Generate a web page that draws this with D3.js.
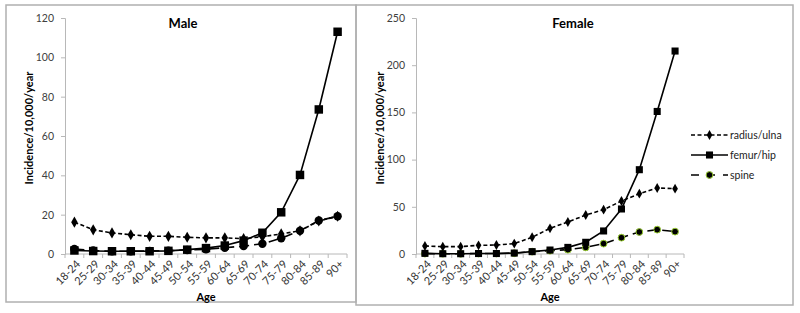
<!DOCTYPE html>
<html>
<head>
<meta charset="utf-8">
<script src="https://cdn.jsdelivr.net/npm/d3@7/dist/d3.min.js"></script>
<style>
  body { margin: 0; background: #fff; }
  svg { display: block; font-family: Lato, "Open Sans", sans-serif; }
</style>
</head>
<body>
<div id="chart"></div>
<script>
// age groups on the x axis
const ages = ["18-24","25-29","30-34","35-39","40-44","45-49","50-54","55-59","60-64","65-69","70-74","75-79","80-84","85-89","90+"];

// male incidence per 10,000 per year
const maleRadius = [16.2, 12.3, 10.7, 9.8, 9.0, 9.0, 8.5, 8.2, 8.2, 7.8, 8.8, 10.2, 11.8, 16.8, 19.2];
const maleFemur  = [1.8, 1.5, 1.4, 1.4, 1.4, 1.6, 2.2, 3.0, 4.3, 6.8, 10.8, 21.2, 40.2, 73.5, 113];
const maleSpine  = [2.5, 1.8, 1.4, 1.4, 1.6, 1.7, 2.0, 2.4, 3.2, 4.0, 5.2, 8.0, 11.8, 17.0, 19.2];

// female incidence per 10,000 per year
const femaleRadius = [8.5, 7.8, 7.8, 9.2, 9.5, 11, 17.7, 27.2, 33.9, 41.3, 47, 56.1, 63.9, 69.9, 69.2];
const femaleFemur  = [0.7, 0.3, 0.3, 0.5, 0.5, 1.0, 2.5, 4.2, 7.0, 12.4, 24.4, 47.7, 89.3, 151, 215];
const femaleSpine  = [0.4, 0.3, 0.2, 0.5, 0.5, 0.8, 2.5, 3.5, 4.6, 7.0, 11, 17.3, 23.3, 25.8, 23.7];

const maleTicks = [0, 20, 40, 60, 80, 100, 120];
const femaleTicks = [0, 50, 100, 150, 200, 250];
const legendNames = ["radius/ulna", "femur/hip", "spine"];

const svg = d3.select("#chart")
  .append("svg")
    .attr("width", 800)
    .attr("height", 313);

// panel frames
svg.append("rect")
  .attr("x", 6).attr("y", 5).attr("width", 350).attr("height", 297)
  .attr("fill", "none").attr("stroke", "#b0b0b0").attr("stroke-width", 1.5);
svg.append("rect")
  .attr("x", 356).attr("y", 5).attr("width", 437).attr("height", 300)
  .attr("fill", "none").attr("stroke", "#b0b0b0").attr("stroke-width", 1.5);

function drawPanel(opt) {
  const x = d3.scaleBand().domain(ages).range([opt.x0, opt.x1]);
  const y = d3.scaleLinear().domain([0, d3.max(opt.ticks)]).range([254, 18]);
  const g = svg.append("g");

  // y axis
  const ya = g.append("g")
    .attr("transform", `translate(${opt.x0},0)`)
    .call(d3.axisLeft(y).tickValues(opt.ticks).tickSize(4).tickPadding(7));
  ya.select(".domain").attr("stroke", "#b8b8b8");
  ya.selectAll(".tick line").attr("stroke", "#b8b8b8");
  ya.selectAll("text").attr("font-size", "10.5px").attr("fill", "#404040")
    .attr("font-family", "Lato, sans-serif");

  // x axis, ticks at band edges
  const xa = g.append("g").attr("transform", "translate(0,254)");
  xa.append("line")
    .attr("x1", opt.x0).attr("x2", opt.x1)
    .attr("stroke", "#b8b8b8");
  xa.selectAll(".xt")
    .data(ages.concat(["end"]))
    .join("line")
      .attr("x1", (d, i) => opt.x0 + i * x.bandwidth())
      .attr("x2", (d, i) => opt.x0 + i * x.bandwidth())
      .attr("y1", 0).attr("y2", 4)
      .attr("stroke", "#b8b8b8");
  xa.selectAll(".xl")
    .data(ages)
    .join("text")
      .attr("transform", d => `translate(${x(d) + x.bandwidth() / 2 + 4},8) rotate(-45)`)
      .attr("text-anchor", "end")
      .attr("dy", "0.35em")
      .attr("font-size", "11px")
      .attr("fill", "#333")
      .text(d => d);

  // titles
  g.append("text")
    .attr("x", opt.titleX).attr("y", 28)
    .attr("text-anchor", "middle")
    .attr("font-size", "13px").attr("font-weight", "bold")
    .text(opt.title);
  g.append("text")
    .attr("x", (opt.x0 + opt.x1) / 2).attr("y", 301)
    .attr("text-anchor", "middle")
    .attr("font-size", "11px").attr("font-weight", "bold")
    .text("Age");
  g.append("text")
    .attr("transform", `translate(${opt.yTitleX},128) rotate(-90)`)
    .attr("text-anchor", "middle")
    .attr("font-size", "11px").attr("font-weight", "bold")
    .text("Incidence/10,000/year");

  const line = d3.line()
    .x((d, i) => x(ages[i]) + x.bandwidth() / 2)
    .y(d => y(d));

  const series = [
    {values: opt.spine, dash: "10,5", marker: "circle"},
    {values: opt.radius, dash: "4,2.5", marker: "diamond"},
    {values: opt.femur, dash: null, marker: "square"}
  ];

  series.forEach(s => {
    g.append("path")
      .datum(s.values)
      .attr("d", line)
      .attr("fill", "none")
      .attr("stroke", "#000")
      .attr("stroke-width", 1.6)
      .attr("stroke-dasharray", s.dash);

    const sym = s.marker === "circle" ? d3.symbolCircle
      : s.marker === "square" ? d3.symbolSquare : d3.symbolDiamond;
    const size = s.marker === "circle" ? opt.circleSize
      : s.marker === "square" ? opt.squareSize : opt.diamondSize;
    g.selectAll(null)
      .data(s.values)
      .join("path")
        .attr("transform", (d, i) => `translate(${x(ages[i]) + x.bandwidth() / 2},${y(d)})`)
        .attr("d", d3.symbol().type(sym).size(size))
        .attr("fill", "#000")
        .attr("stroke", s.marker === "circle" ? opt.spineEdge : "none")
        .attr("stroke-width", 1);
  });
}

drawPanel({
  title: "Male", titleX: 183, yTitleX: 33,
  x0: 65, x1: 347, ticks: maleTicks,
  radius: maleRadius, femur: maleFemur, spine: maleSpine,
  circleSize: 56, squareSize: 72, diamondSize: 36, spineEdge: "none"
});

drawPanel({
  title: "Female", titleX: 573, yTitleX: 384,
  x0: 416, x1: 684, ticks: femaleTicks,
  radius: femaleRadius, femur: femaleFemur, spine: femaleSpine,
  circleSize: 36, squareSize: 50, diamondSize: 28, spineEdge: "#9acd32"
});

// legend
const legend = svg.append("g");
const legendStyles = [
  {dash: "4,2.5", sym: d3.symbolDiamond, size: 28},
  {dash: null, sym: d3.symbolSquare, size: 50},
  {dash: "8,8", sym: d3.symbolCircle, size: 36}
];
legendNames.forEach((name, i) => {
  const yy = 135 + i * 20;
  legend.append("line")
    .attr("x1", 691).attr("x2", 728)
    .attr("y1", yy).attr("y2", yy)
    .attr("stroke", "#000").attr("stroke-width", 1.6)
    .attr("stroke-dasharray", legendStyles[i].dash);
  legend.append("path")
    .attr("transform", `translate(709.5,${yy})`)
    .attr("d", d3.symbol().type(legendStyles[i].sym).size(legendStyles[i].size))
    .attr("fill", "#000")
    .attr("stroke", i === 2 ? "#9acd32" : "none");
  legend.append("text")
    .attr("x", 730).attr("y", yy)
    .attr("dy", "0.35em")
    .attr("font-size", "10.5px")
    .attr("fill", "#222")
    .text(name);
});
</script>
</body>
</html>
